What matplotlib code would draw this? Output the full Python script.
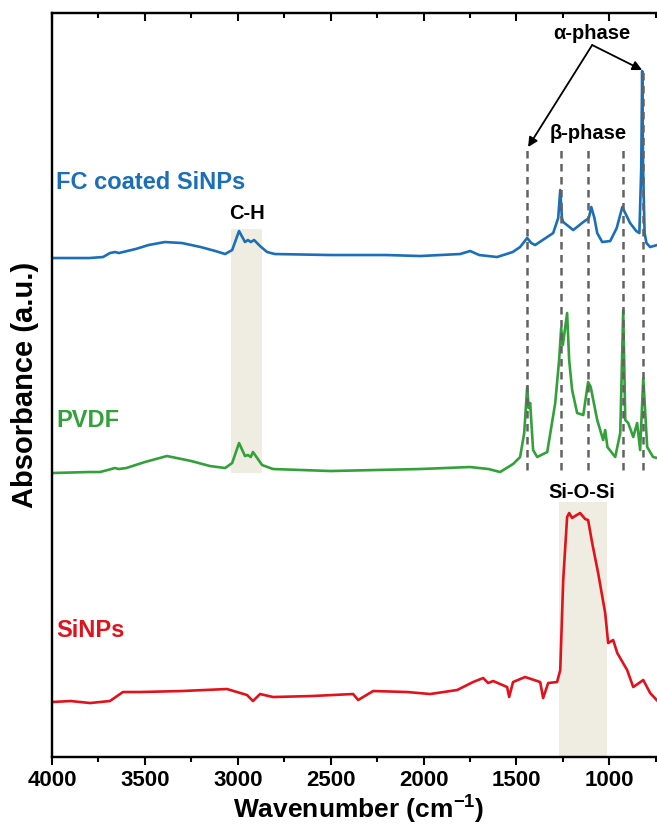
import matplotlib
matplotlib.use("Agg")
import matplotlib.pyplot as plt
from matplotlib.ticker import MultipleLocator

plt.rcParams['font.family'] = ['Liberation Sans', 'DejaVu Sans']
plt.rcParams['font.weight'] = 'bold'
plt.rcParams['mathtext.fontset'] = 'custom'
plt.rcParams['mathtext.rm'] = 'Liberation Sans:bold'
plt.rcParams['mathtext.bf'] = 'Liberation Sans:bold'

# FTIR spectra (wavenumber in cm-1, absorbance in a.u., each from its own baseline)
fc_wn = [4000, 3800, 3725, 3688, 3660, 3640, 3550, 3480, 3392, 3300, 3200, 3120, 3068, 3030, 2993,
         2961, 2945, 2930, 2912, 2880, 2842, 2800, 2500, 2200, 2018, 1803, 1749, 1700, 1604, 1520,
         1480, 1442, 1420, 1399, 1302, 1275, 1264, 1255, 1248, 1194, 1140, 1124, 1110, 1097, 1080,
         1065, 1038, 995, 960, 930, 888, 855, 838, 828, 823, 818, 810, 800, 780, 742]
fc_abs = [0.00, 0.00, 0.01, 0.05, 0.06, 0.05, 0.09, 0.13, 0.16, 0.15, 0.11, 0.07, 0.04, 0.08, 0.27,
          0.16, 0.18, 0.16, 0.18, 0.12, 0.06, 0.04, 0.03, 0.03, 0.02, 0.04, 0.07, 0.03, 0.01, 0.06,
          0.11, 0.20, 0.15, 0.13, 0.25, 0.40, 0.68, 0.40, 0.36, 0.28, 0.36, 0.38, 0.40, 0.51, 0.40,
          0.25, 0.16, 0.17, 0.30, 0.51, 0.35, 0.27, 0.25, 0.90, 1.87, 0.90, 0.25, 0.15, 0.11, 0.13]

pvdf_wn = [4000, 3800, 3742, 3700, 3661, 3640, 3600, 3500, 3381, 3250, 3150, 3068, 3030, 2993, 2961,
           2945, 2930, 2918, 2869, 2810, 2500, 2018, 1749, 1650, 1588, 1518, 1480, 1458, 1442, 1434,
           1426, 1410, 1388, 1334, 1291, 1270, 1259, 1250, 1227, 1216, 1200, 1173, 1140, 1114, 1100,
           1065, 1033, 1022, 1010, 968, 941, 925, 914, 898, 871, 850, 834, 817, 796, 764, 742]
pvdf_abs = [0.00, 0.01, 0.01, 0.03, 0.05, 0.04, 0.05, 0.11, 0.17, 0.12, 0.07, 0.05, 0.10, 0.30, 0.17,
            0.18, 0.16, 0.21, 0.08, 0.04, 0.02, 0.04, 0.06, 0.04, 0.01, 0.09, 0.16, 0.40, 0.86, 0.65,
            0.70, 0.23, 0.16, 0.21, 0.70, 1.13, 1.45, 1.28, 1.60, 1.13, 0.83, 0.60, 0.58, 0.91, 0.86,
            0.53, 0.33, 0.43, 0.26, 0.16, 0.40, 1.63, 0.53, 0.50, 0.36, 0.50, 0.23, 0.95, 0.26, 0.16, 0.15]

si_wn = [4000, 3900, 3795, 3688, 3618, 3526, 3300, 3058, 2950, 2918, 2880, 2810, 2600, 2379, 2352,
         2271, 2088, 1964, 1819, 1733, 1679, 1652, 1625, 1550, 1539, 1518, 1453, 1372, 1356, 1329,
         1281, 1264, 1248, 1227, 1216, 1200, 1184, 1157, 1130, 1114, 1092, 1060, 1022, 1006, 979,
         957, 904, 871, 817, 780, 745]
si_abs = [0.00, 0.01, -0.01, 0.01, 0.10, 0.10, 0.11, 0.13, 0.07, 0.01, 0.08, 0.05, 0.06, 0.08, 0.02,
          0.11, 0.10, 0.08, 0.12, 0.20, 0.24, 0.19, 0.21, 0.15, 0.05, 0.20, 0.25, 0.20, 0.04, 0.19,
          0.20, 0.32, 1.22, 1.85, 1.89, 1.84, 1.86, 1.89, 1.83, 1.82, 1.59, 1.29, 0.89, 0.59, 0.62,
          0.49, 0.32, 0.15, 0.22, 0.09, 0.02]

names = ['FC coated SiNPs', 'PVDF', 'SiNPs']
offsets = [4.99, 2.84, 0.55]
colors = ['#1b6fb8', '#33a139', '#e2121c']

phase_lines = [1442, 1259, 1114, 925, 817]
xticks = [4000, 3500, 3000, 2500, 2000, 1500, 1000]

fig = plt.figure(figsize=(6.57, 8.25), dpi=100)
ax = fig.add_axes([0.0791, 0.0824, 0.9331, 0.9018])

# shaded bands
ax.fill_between([3036, 2869], 2.84, 5.28, color='#efece2', lw=0, zorder=0)
ax.fill_between([1270, 1011], 0, 2.55, color='#efece2', lw=0, zorder=0)

for wn, a, off, c in zip([fc_wn, pvdf_wn, si_wn], [fc_abs, pvdf_abs, si_abs], offsets, colors):
    ax.plot(wn, [v + off for v in a], color=c, lw=1.9, zorder=2)

for i, w in enumerate(phase_lines):
    top = 6.85 if i == len(phase_lines) - 1 else 6.07
    ax.plot([w, w], [2.87, top], ls=(0, (3, 2.2)), color='#626262', lw=1.8, zorder=3)

ax.text(3978, 5.75, names[0], color=colors[0], fontsize=17, fontweight='bold', va='center')
ax.text(3978, 3.37, names[1], color=colors[1], fontsize=17, fontweight='bold', va='center')
ax.text(3978, 1.27, names[2], color=colors[2], fontsize=17, fontweight='bold', va='center')

ax.text(2950, 5.44, 'C-H', fontsize=14.5, fontweight='bold', ha='center', va='center')
ax.text(1146, 2.65, 'Si-O-Si', fontsize=14.5, fontweight='bold', ha='center', va='center')
ax.text(1092, 7.24, 'α-phase', fontsize=14.5, fontweight='bold', ha='center', va='center')
ax.text(1114, 6.24, 'β-phase', fontsize=14.5, fontweight='bold', ha='center', va='center')

for tx, ty in [(1437, 6.10), (823, 6.87)]:
    ax.annotate('', xy=(tx, ty), xytext=(1092, 7.12),
                arrowprops=dict(arrowstyle='-|>', color='black', lw=1.3, mutation_scale=14,
                                shrinkA=0, shrinkB=0))

ax.set_xlim(4000, 700)
ax.set_ylim(0, 7.44)
ax.set_xticks(xticks)
ax.xaxis.set_minor_locator(MultipleLocator(250))
ax.set_yticks([])
ax.tick_params(axis='x', which='major', direction='out', length=6, width=1.5, labelsize=16, pad=3)
ax.tick_params(axis='x', which='minor', direction='out', length=3.5, width=1.5)
for lab in ax.get_xticklabels():
    lab.set_fontweight('bold')

# ticks on the top spine, pointing inwards
twin = ax.twiny()
twin.set_xlim(ax.get_xlim())
twin.set_xticks(xticks)
twin.xaxis.set_minor_locator(MultipleLocator(250))
twin.tick_params(axis='x', which='major', direction='in', length=6, width=1.5, labeltop=False)
twin.tick_params(axis='x', which='minor', direction='in', length=3.5, width=1.5)
twin.set_yticks([])

for a in (ax, twin):
    for s in a.spines.values():
        s.set_linewidth(1.6)

ax.set_xlabel('Wavenumber (cm$^{\\mathbf{-1}}$)', fontsize=19, fontweight='bold', labelpad=1)
ax.set_ylabel('Absorbance (a.u.)', fontsize=21, fontweight='bold', labelpad=9)

fig.savefig('out.png', dpi=100)
